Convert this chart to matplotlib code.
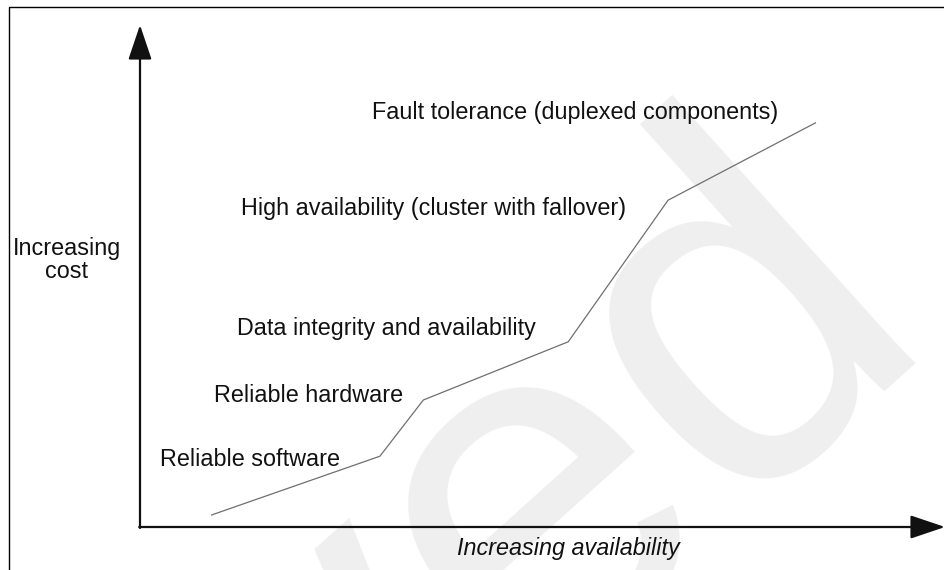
import matplotlib
matplotlib.use('Agg')
import matplotlib.pyplot as plt
import matplotlib.patches as patches

# Datos de la curva (disponibilidad vs. coste, escala 0-100)
disponibilidad = [8.9, 29.8, 35.2, 53.2, 65.6, 83.9]
coste = [2.4, 14.1, 25.3, 36.9, 65.1, 80.5]

etiquetas = [
    'Reliable software',
    'Reliable hardware',
    'Data integrity and availability',
    'High availability (cluster with fallover)',
    'Fault tolerance (duplexed components)',
]
# posiciones de las etiquetas en pixeles (x izquierda, y centro)
pos_etiquetas = [(160, 459), (214, 396), (237, 328), (241, 208), (372, 112)]

fuente = ['Liberation Sans', 'DejaVu Sans']
plt.rcParams['font.family'] = fuente

W, H = 945, 570
fig = plt.figure(figsize=(W / 100, H / 100), dpi=100)

# Capa de fondo en coordenadas de pixel
fondo = fig.add_axes([0, 0, 1, 1], zorder=0)
fondo.set_xlim(0, W)
fondo.set_ylim(H, 0)
fondo.axis('off')

# Marca de agua
fondo.text(940, 340, 'ved', rotation=42, rotation_mode='anchor',
           ha='right', va='baseline', fontsize=360, color='#efefef',
           family=['Liberation Sans Narrow', 'Liberation Sans'],
           clip_on=True)

# Marco
fondo.add_patch(patches.Rectangle((9, 7), 1000, 1000, fill=False,
                                  edgecolor='black', linewidth=1.0))

for texto, (x, y) in zip(etiquetas, pos_etiquetas):
    fondo.text(x, y, texto, ha='left', va='center', fontsize=16.8,
               color='#111111')

fondo.text(67, 260, 'Increasing\ncost', ha='center', va='center',
           fontsize=16.8, color='#111111', linespacing=1.0)
fondo.text(568, 548, 'Increasing availability', ha='center', va='center',
           fontsize=16.8, style='italic', color='#111111')

# Ejes con flechas
ax = fig.add_axes([140 / W, 43 / H, 805 / W, 502 / H], zorder=1)
ax.set_facecolor('none')
ax.set_xlim(0, 100)
ax.set_ylim(0, 100)
ax.axis('off')

ax.plot(disponibilidad, coste, color='#6f6f6f', linewidth=0.9)

flecha = dict(arrowstyle='-|>,head_length=0.8,head_width=0.27',
              mutation_scale=27, lw=1.6, color='#111111',
              shrinkA=0, shrinkB=0)
ax.annotate('', xy=(0, 100), xytext=(0, -0.2), arrowprops=flecha,
            annotation_clip=False)
ax.annotate('', xy=(100, 0), xytext=(-0.1, 0), arrowprops=flecha,
            annotation_clip=False)

plt.savefig('out.png', dpi=100)
